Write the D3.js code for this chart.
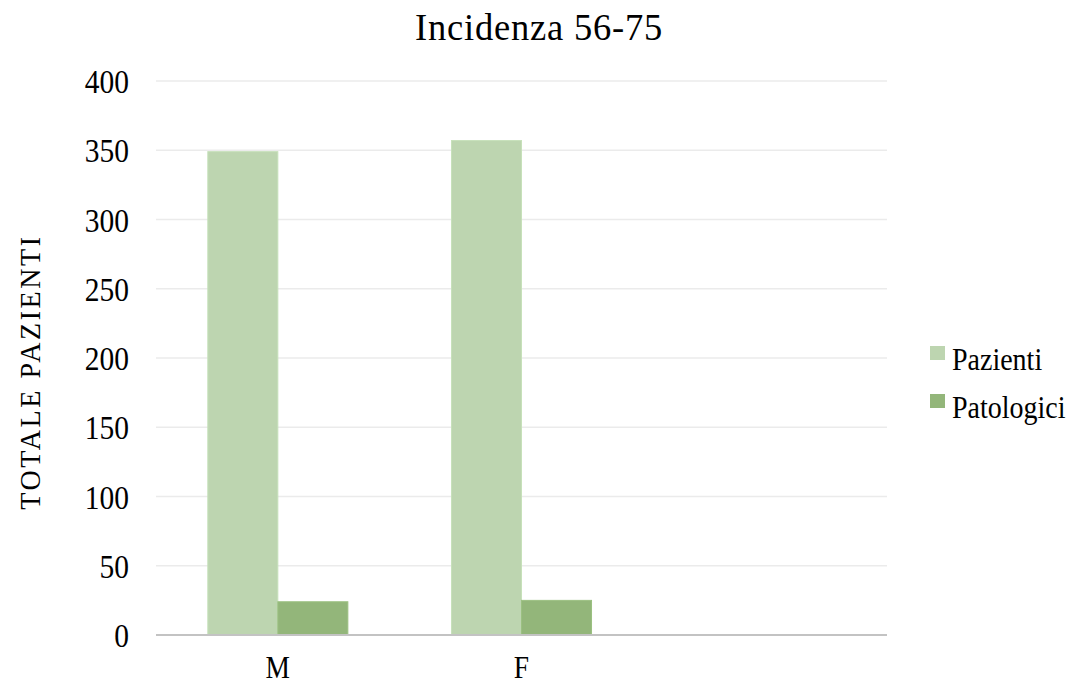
<!DOCTYPE html>
<html><head><meta charset="utf-8">
<script src="https://cdn.jsdelivr.net/npm/d3@7/dist/d3.min.js"></script>
<style>body{margin:0;background:#fff}svg{display:block}text{font-family:"Liberation Serif","Times New Roman",serif;fill:#000}</style>
</head><body><svg id="c" width="1088" height="686"></svg>
<script>
const categories = ["M", "F", ""];
const seriesNames = ["Pazienti", "Patologici"];
const pazienti = [349, 357, null];
const patologici = [24, 25, null];
const yTicks = [0, 50, 100, 150, 200, 250, 300, 350, 400];
const colors = ["#bdd5b0", "#93b67a"];

(function () {
const svg = d3.select("#c");
const pLeft = 156, pRight = 887, pTop = 81, pBottom = 635;
const sy = 1.12;
const x = d3.scaleBand().domain(categories).range([pLeft, pRight]).padding(0);
const y = d3.scaleLinear().domain([0, 400]).range([pBottom, pTop]);
const inner = d3.scaleBand().domain(seriesNames).range([0, x.bandwidth()]).paddingInner(0).paddingOuter(0.74);

// gridlines
svg.append("g").selectAll("line").data(yTicks.filter(d => d > 0)).join("line")
  .attr("x1", pLeft).attr("x2", pRight)
  .attr("y1", d => y(d)).attr("y2", d => y(d))
  .attr("stroke", "#ebebeb").attr("stroke-width", 1.3);

// y tick labels
svg.append("g").selectAll("text").data(yTicks).join("text")
  .attr("transform", d => `translate(129,${y(d) + 12}) scale(1,${sy})`)
  .attr("text-anchor", "end").attr("font-size", 29.5).text(d => d);

// bars
const data = [pazienti, patologici];
data.forEach((vals, si) => {
  svg.append("g").selectAll("rect")
    .data(categories.map((c, i) => ({c, v: vals[i]})).filter(d => d.v != null)).join("rect")
    .attr("x", d => x(d.c) + inner(seriesNames[si]))
    .attr("width", inner.bandwidth())
    .attr("y", d => y(d.v))
    .attr("height", d => y(0) - y(d.v))
    .attr("fill", colors[si])
    .attr("stroke", d3.color(colors[si]).brighter(0.15)).attr("stroke-width", 1);
});

// axis line
svg.append("line").attr("x1", pLeft).attr("x2", pRight).attr("y1", y(0)).attr("y2", y(0))
  .attr("stroke", "#c3c3c3").attr("stroke-width", 2.2);

// category labels
svg.append("g").selectAll("text").data(categories).join("text")
  .attr("transform", d => `translate(${x(d) + x.bandwidth() / 2},678) scale(1,${sy})`)
  .attr("text-anchor", "middle").attr("font-size", 27.5).text(d => d);

// title
svg.append("text").attr("transform", "translate(539,40) scale(1,1.02)").attr("text-anchor", "middle")
  .attr("font-size", 36.5).attr("letter-spacing", 0.8).text("Incidenza 56-75");

// y axis title
svg.append("text").attr("transform", `translate(40,372) rotate(-90) scale(1,1.05)`)
  .attr("text-anchor", "middle").attr("font-size", 28).attr("letter-spacing", 2.6).text("TOTALE PAZIENTI");

// legend
const lg = svg.append("g").selectAll("g").data(seriesNames).join("g")
  .attr("transform", (d, i) => `translate(930,${346 + i * 48})`);
lg.append("rect").attr("x", 0).attr("y", 0).attr("width", 15).attr("height", 14)
  .attr("fill", (d, i) => colors[i]);
lg.append("text").attr("transform", `translate(22,24) scale(1,${sy})`).attr("font-size", 28).text(d => d);
})();
</script></body></html>
